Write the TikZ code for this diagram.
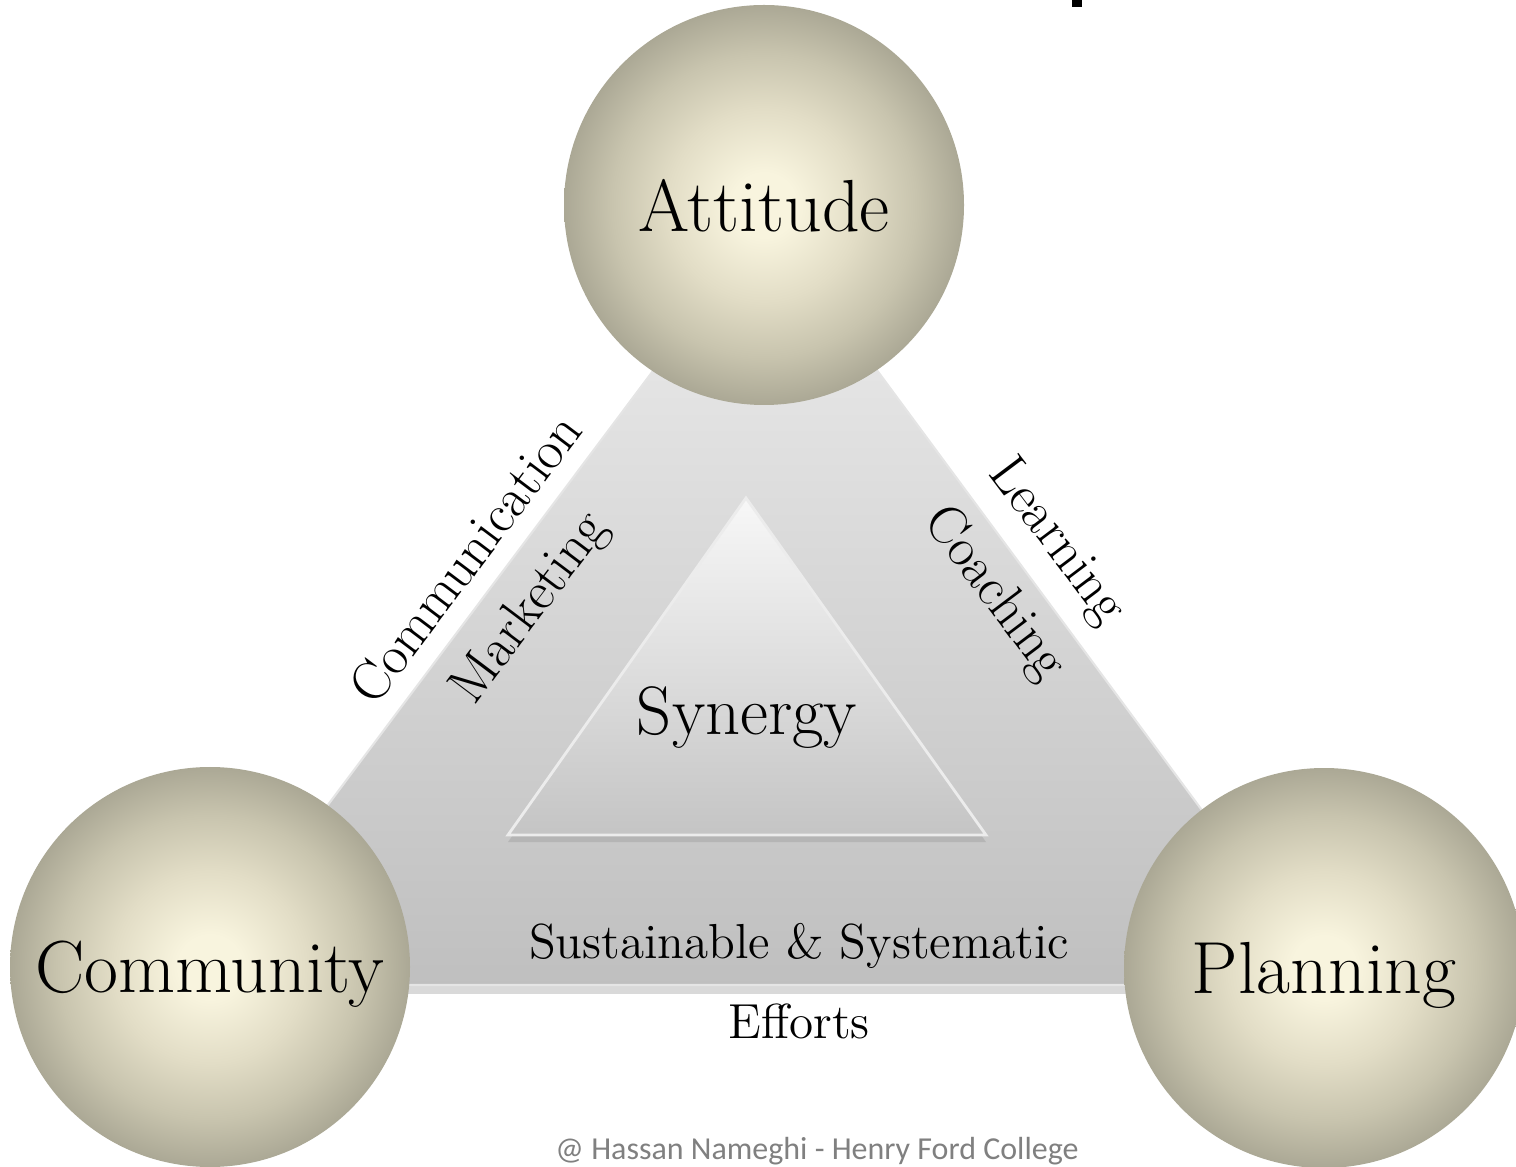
\documentclass[tikz,border=0pt]{standalone}
\usepackage{fontspec}
\newfontfamily\footfont{Carlito}
\usetikzlibrary{shadows}

\definecolor{ballin}{HTML}{F8F4DE}
\definecolor{ballmid}{HTML}{E2DDC6}
\definecolor{ballrim}{HTML}{C8C4AE}
\definecolor{ballout}{HTML}{ABA895}
\pgfdeclareradialshading{ballshade}{\pgfpoint{0bp}{0bp}}{color(0bp)=(ballin); color(4bp)=(ballin); color(12bp)=(ballmid); color(19bp)=(ballrim); color(25bp)=(ballout); color(50bp)=(ballout)}

\tikzset{
  ball/.style={circle, minimum size=4cm, inner sep=0pt, shading=ballshade, text depth=0pt, font=\fontsize{21}{25}\selectfont},
  bigtri/.style={top color=gray!14, bottom color=gray!50, draw=white!80!gray, line width=0.6pt,
    drop shadow={shadow xshift=0pt, shadow yshift=-2.5pt, opacity=0.3}},
  smalltri/.style={top color=gray!6, bottom color=gray!46, draw=white!85!gray, line width=0.8pt,
    drop shadow={shadow xshift=0pt, shadow yshift=-2pt, opacity=0.25}},
  sidelabel/.style={font=\fontsize{15.5}{18}\selectfont, inner sep=0pt},
  baselabel/.style={font=\fontsize{14}{17}\selectfont, inner sep=0pt, anchor=base}
}

\begin{document}
\begin{tikzpicture}
	\clip (0,0) rectangle (15.16,11.66);
	\useasboundingbox (0,0) rectangle (15.16,11.66);
	% cut-off title fragment
	\fill (10.72,11.59) rectangle (10.82,11.66);
	% triangles
	\path [bigtri] (7.66,9.46) -- (1.93,1.81) -- (13.31,1.81) -- cycle;
	\path [smalltri] (7.46,6.68) -- (5.08,3.31) -- (9.86,3.31) -- cycle;
	% the three balls
	\node [ball] (attitude) at (7.64,9.61) {Attitude};
	\node [ball] (community) at (2.10,1.99) {Community};
	\node [ball] (planning) at (13.24,1.98) {Planning};
	% labels
	\node [font=\fontsize{19.5}{23}\selectfont, anchor=base, inner sep=0pt] (synergy) at (7.47,4.31) {Synergy};
	\node [sidelabel, rotate=53] (communication) at (4.65,6.08) {Communication};
	\node [sidelabel, rotate=53] (marketing) at (5.31,5.57) {Marketing};
	\node [sidelabel, rotate=-53] (learning) at (10.56,6.24) {Learning};
	\node [sidelabel, rotate=-53] (coaching) at (9.94,5.72) {Coaching};
	\node [baselabel] (sustainable) at (7.99,2.08) {Sustainable \& Systematic};
	\node [baselabel] (efforts) at (7.99,1.28) {Efforts};
	\node [font=\footfont\fontsize{9.1}{11}\selectfont, text=gray, anchor=base, inner sep=0pt] (credit) at (8.17,0.07) {@ Hassan Nameghi - Henry Ford College};
\end{tikzpicture}
\end{document}
